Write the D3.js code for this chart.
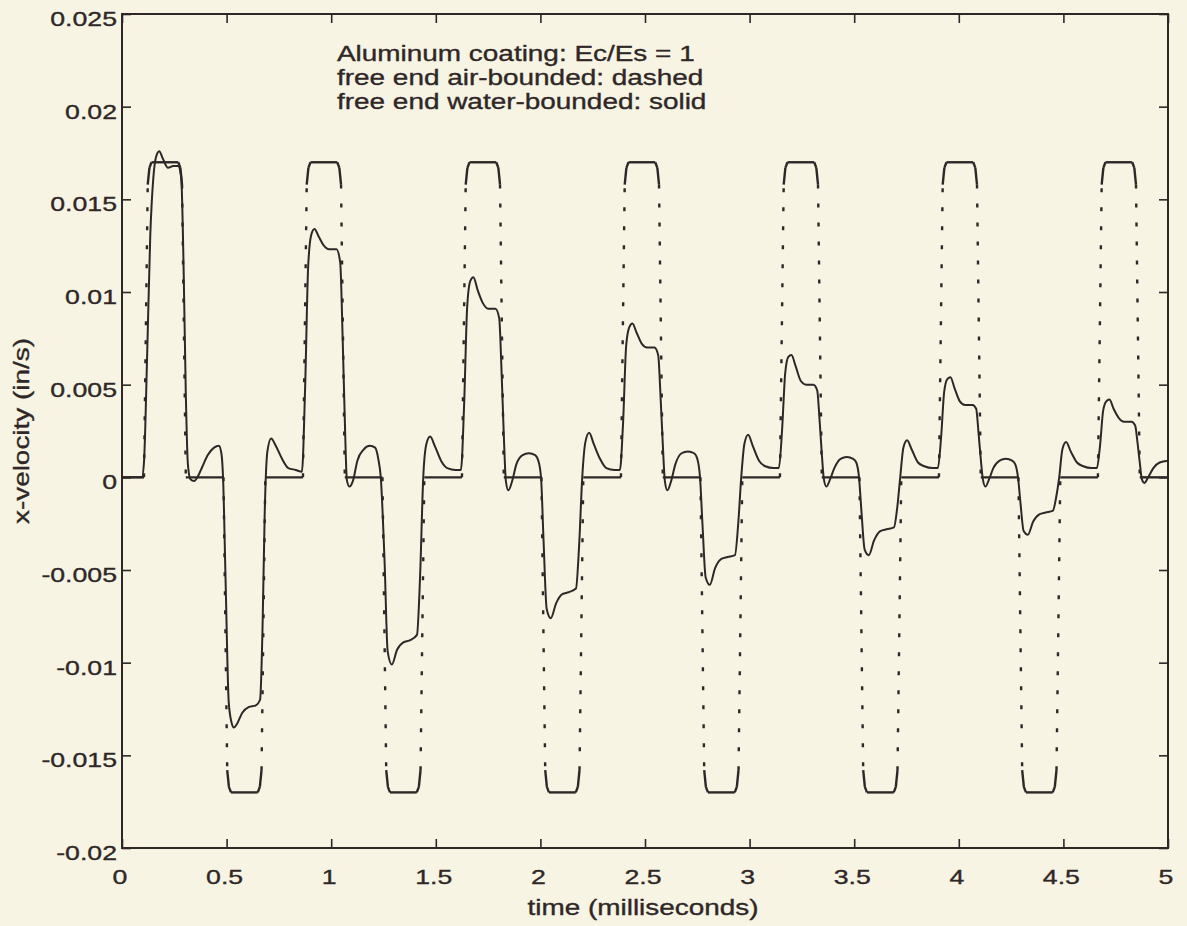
<!DOCTYPE html>
<html>
<head>
<meta charset="UTF-8">
<script src="https://d3js.org/d3.v7.min.js"></script>
<style>
  body { margin: 0; background: #f7f4e4; }
  text { font-family: "Liberation Sans", Arial, sans-serif; fill: #2f2727; stroke: #2f2727; stroke-width: 0.35px; }
</style>
</head>
<body>
<div id="chart"></div>
<script>
 // [time (ms), x-velocity (in/s)]
 // free end air-bounded (dotted square pulses)
 const airBounded = [
   [0, 0],
   [0.105, 0], [0.123, 0.0158], [0.131, 0.0167], [0.141, 0.017], [0.269, 0.017], [0.279, 0.0167], [0.287, 0.0158], [0.305, 0],
   [0.485, 0], [0.503, -0.0158], [0.511, -0.0167], [0.521, -0.017], [0.649, -0.017], [0.659, -0.0167], [0.667, -0.0158], [0.685, 0],
   [0.865, 0], [0.883, 0.0158], [0.891, 0.0167], [0.901, 0.017], [1.029, 0.017], [1.039, 0.0167], [1.047, 0.0158], [1.065, 0],
   [1.245, 0], [1.263, -0.0158], [1.271, -0.0167], [1.281, -0.017], [1.409, -0.017], [1.419, -0.0167], [1.427, -0.0158], [1.445, 0],
   [1.625, 0], [1.643, 0.0158], [1.651, 0.0167], [1.661, 0.017], [1.789, 0.017], [1.799, 0.0167], [1.807, 0.0158], [1.825, 0],
   [2.005, 0], [2.023, -0.0158], [2.031, -0.0167], [2.041, -0.017], [2.169, -0.017], [2.179, -0.0167], [2.187, -0.0158], [2.205, 0],
   [2.385, 0], [2.403, 0.0158], [2.411, 0.0167], [2.421, 0.017], [2.549, 0.017], [2.559, 0.0167], [2.567, 0.0158], [2.585, 0],
   [2.765, 0], [2.783, -0.0158], [2.791, -0.0167], [2.801, -0.017], [2.929, -0.017], [2.939, -0.0167], [2.947, -0.0158], [2.965, 0],
   [3.145, 0], [3.163, 0.0158], [3.171, 0.0167], [3.181, 0.017], [3.309, 0.017], [3.319, 0.0167], [3.327, 0.0158], [3.345, 0],
   [3.525, 0], [3.543, -0.0158], [3.551, -0.0167], [3.561, -0.017], [3.689, -0.017], [3.699, -0.0167], [3.707, -0.0158], [3.725, 0],
   [3.905, 0], [3.923, 0.0158], [3.931, 0.0167], [3.941, 0.017], [4.069, 0.017], [4.079, 0.0167], [4.087, 0.0158], [4.105, 0],
   [4.285, 0], [4.303, -0.0158], [4.311, -0.0167], [4.321, -0.017], [4.449, -0.017], [4.459, -0.0167], [4.467, -0.0158], [4.485, 0],
   [4.665, 0], [4.683, 0.0158], [4.691, 0.0167], [4.701, 0.017], [4.829, 0.017], [4.839, 0.0167], [4.847, 0.0158], [4.865, 0],
   [5, 0]
 ];

 // free end water-bounded (solid, damped)
 const waterBounded = [
   [0, 0], [0.095, 0], [0.105, 0.0008], [0.12, 0.0065], [0.135, 0.013], [0.15, 0.0162], [0.163, 0.0173], [0.178, 0.0176],
   [0.195, 0.0172], [0.22, 0.0167], [0.245, 0.0168], [0.268, 0.0168], [0.283, 0.0162], [0.295, 0.011], [0.305, 0.0045],
   [0.315, 0.0007], [0.327, -0.0001], [0.345, -0.0002], [0.365, 0.0001], [0.385, 0.0006], [0.41, 0.0012], [0.44, 0.0016],
   [0.463, 0.0017], [0.475, 0.0013], [0.483, 0],
   [0.495, -0.0055], [0.51, -0.0121], [0.523, -0.0132], [0.535, -0.0135], [0.55, -0.0133], [0.575, -0.0127], [0.605, -0.0124],
   [0.64, -0.0123], [0.66, -0.012], [0.672, -0.008], [0.682, -0.002], [0.695, 0.0014], [0.713, 0.0021], [0.735, 0.0017],
   [0.765, 0.001], [0.795, 0.0005], [0.83, 0.0004],
   [0.86, 0.0003], [0.875, 0.0047], [0.89, 0.0114], [0.905, 0.0131], [0.92, 0.0134], [0.94, 0.013], [0.965, 0.0125],
   [0.99, 0.0123], [1.025, 0.0123], [1.043, 0.0116], [1.055, 0.0074], [1.065, 0.0031], [1.075, -0.00015], [1.087, -0.0005],
   [1.105, -0.00015], [1.125, 0.0009], [1.155, 0.0015], [1.185, 0.0017], [1.21, 0.0016], [1.225, 0.001], [1.237, 0],
   [1.255, -0.0045], [1.27, -0.0094], [1.29, -0.0101], [1.315, -0.0093], [1.345, -0.0089], [1.375, -0.0088], [1.41, -0.0085],
   [1.425, -0.0053], [1.44, 0], [1.455, 0.0018], [1.473, 0.0022], [1.495, 0.0017], [1.525, 0.0009], [1.555, 0.0005], [1.595, 0.0004],
   [1.62, 0.0004], [1.635, 0.0038], [1.65, 0.0092], [1.665, 0.0106], [1.68, 0.0108], [1.7, 0.0101], [1.725, 0.0094],
   [1.75, 0.0091], [1.785, 0.0091], [1.803, 0.0086], [1.815, 0.0055], [1.825, 0.0023], [1.835, -0.0002], [1.847, -0.0007],
   [1.865, -0.0002], [1.885, 0.0007], [1.915, 0.0012], [1.945, 0.0013], [1.975, 0.0012], [1.99, 0.0009], [2.003, 0],
   [2.015, -0.0034], [2.03, -0.0071], [2.05, -0.0076], [2.075, -0.0068], [2.105, -0.0063], [2.135, -0.0062], [2.17, -0.006],
   [2.185, -0.0037], [2.2, 0], [2.215, 0.0019], [2.233, 0.0024], [2.255, 0.0018], [2.285, 0.001], [2.315, 0.0005], [2.355, 0.0004],
   [2.38, 0.0004], [2.395, 0.0029], [2.41, 0.0071], [2.425, 0.0081], [2.44, 0.0083], [2.46, 0.0078], [2.485, 0.0072],
   [2.51, 0.007], [2.545, 0.007], [2.563, 0.0066], [2.575, 0.0042], [2.585, 0.0018], [2.595, -0.0002], [2.607, -0.0007],
   [2.625, -0.0002], [2.645, 0.0007], [2.675, 0.0013], [2.705, 0.0014], [2.735, 0.0013], [2.75, 0.001], [2.763, 0],
   [2.775, -0.0026], [2.79, -0.0054], [2.81, -0.0058], [2.835, -0.0049], [2.865, -0.0044], [2.895, -0.0043], [2.93, -0.0042],
   [2.945, -0.0026], [2.96, 0], [2.975, 0.0018], [2.993, 0.0023], [3.015, 0.0017], [3.045, 0.0009], [3.075, 0.0006], [3.115, 0.0005],
   [3.14, 0.0005], [3.155, 0.0025], [3.17, 0.0056], [3.185, 0.0065], [3.2, 0.0066], [3.22, 0.006], [3.245, 0.0052],
   [3.27, 0.005], [3.305, 0.005], [3.323, 0.0047], [3.335, 0.003], [3.345, 0.0013], [3.355, -0.0001], [3.367, -0.0005],
   [3.385, -0.0001], [3.405, 0.0005], [3.435, 0.001], [3.465, 0.0011], [3.495, 0.001], [3.51, 0.0008], [3.523, 0],
   [3.535, -0.0019], [3.55, -0.0039], [3.57, -0.0042], [3.595, -0.0034], [3.625, -0.0029], [3.655, -0.0028], [3.69, -0.0027],
   [3.705, -0.0017], [3.72, 0], [3.735, 0.0016], [3.753, 0.002], [3.775, 0.0015], [3.805, 0.0008], [3.835, 0.0006], [3.875, 0.0005],
   [3.9, 0.0005], [3.915, 0.0021], [3.93, 0.0046], [3.945, 0.0053], [3.96, 0.0054], [3.98, 0.0048], [4.005, 0.0041],
   [4.03, 0.0039], [4.065, 0.0039], [4.083, 0.0037], [4.095, 0.0023], [4.105, 0.001], [4.115, -0.0001], [4.127, -0.0005],
   [4.145, -0.0001], [4.165, 0.0005], [4.195, 0.0009], [4.225, 0.001], [4.255, 0.0009], [4.27, 0.0007], [4.283, 0],
   [4.295, -0.0014], [4.31, -0.0029], [4.33, -0.0031], [4.355, -0.0024], [4.385, -0.002], [4.415, -0.0019], [4.45, -0.0018],
   [4.465, -0.0011], [4.48, 0], [4.495, 0.0015], [4.513, 0.0019], [4.535, 0.0014], [4.565, 0.0008], [4.595, 0.0006], [4.635, 0.0005],
   [4.66, 0.0005], [4.675, 0.0017], [4.69, 0.0036], [4.705, 0.0041], [4.72, 0.0042], [4.74, 0.0037], [4.765, 0.0032],
   [4.79, 0.003], [4.825, 0.003], [4.843, 0.0028], [4.855, 0.0018], [4.865, 0.0008], [4.875, -0.0001], [4.887, -0.0003],
   [4.905, 0], [4.93, 0.0005], [4.96, 0.0008], [5, 0.0009]
 ];

 const xTicks = [0, 0.5, 1, 1.5, 2, 2.5, 3, 3.5, 4, 4.5, 5];
 const xTickLabels = ["0", "0.5", "1", "1.5", "2", "2.5", "3", "3.5", "4", "4.5", "5"];
 const yTicks = [0.025, 0.02, 0.015, 0.01, 0.005, 0, -0.005, -0.01, -0.015, -0.02];
 const yTickLabels = ["0.025", "0.02", "0.015", "0.01", "0.005", "0", "-0.005", "-0.01", "-0.015", "-0.02"];
 const notes = ["Aluminum coating: Ec/Es = 1",
                "free end air-bounded: dashed",
                "free end water-bounded: solid"];

 const width = 1187;
 const height = 926;
 const plot = {left: 122, right: 1168, top: 14, bottom: 848};
 const ink = "#2f2727";
 const stretch = 1.27;   // the scanned lettering is wider than it is tall

 let svg = d3.select("#chart").append("svg")
             .attr("width", width)
             .attr("height", height);
 svg.append("rect")
    .attr("width", width)
    .attr("height", height)
    .attr("fill", "#f7f4e4");

 let x = d3.scaleLinear().domain([0, 5]).range([plot.left, plot.right]);
 let y = d3.scaleLinear().domain([-0.02, 0.025]).range([plot.bottom, plot.top]);

 // inward ticks on all four sides
 function ticks(axis, tx, ty) {
     let g = svg.append("g")
                .attr("transform", `translate(${tx},${ty})`)
                .call(axis.tickSize(-9).tickFormat(""));
     g.select(".domain").remove();
     g.selectAll("line").attr("stroke", ink).attr("stroke-width", 1.6);
 }
 ticks(d3.axisBottom(x).tickValues(xTicks), 0, plot.bottom);
 ticks(d3.axisTop(x).tickValues(xTicks), 0, plot.top);
 ticks(d3.axisLeft(y).tickValues(yTicks), plot.left, 0);
 ticks(d3.axisRight(y).tickValues(yTicks), plot.right, 0);

 svg.append("rect")
    .attr("x", plot.left)
    .attr("y", plot.top)
    .attr("width", plot.right - plot.left)
    .attr("height", plot.bottom - plot.top)
    .attr("fill", "none")
    .attr("stroke", ink)
    .attr("stroke-width", 2);

 // tick labels
 svg.append("g").selectAll("text")
    .data(yTicks)
    .join("text")
    .attr("transform", d => `translate(${plot.left - 5},${y(d) + 12}) scale(${stretch},1)`)
    .attr("text-anchor", "end")
    .style("font-size", "21px")
    .text((d, i) => yTickLabels[i]);
 svg.append("g").selectAll("text")
    .data(xTicks)
    .join("text")
    .attr("transform", d => `translate(${x(d) - 2},${plot.bottom + 36}) scale(${stretch},1)`)
    .attr("text-anchor", "middle")
    .style("font-size", "21px")
    .text((d, i) => xTickLabels[i]);

 // axis titles
 svg.append("text")
    .attr("transform", `translate(${(plot.left + plot.right) / 2 - 2},${plot.bottom + 67}) scale(${stretch},1)`)
    .attr("text-anchor", "middle")
    .style("font-size", "22px")
    .text("time (milliseconds)");
 svg.append("text")
    .attr("transform", `translate(29,${(plot.top + plot.bottom) / 2}) rotate(-90) scale(${stretch},1)`)
    .attr("text-anchor", "middle")
    .style("font-size", "22px")
    .text("x-velocity (in/s)");

 // annotation
 svg.append("g").selectAll("text")
    .data(notes)
    .join("text")
    .attr("transform", (d, i) => `translate(337,${61 + i * 24}) scale(${stretch},1)`)
    .style("font-size", "22px")
    .text(d => d);

 // air-bounded: printed dotted, the dots only show on the steep edges
 svg.append("g").selectAll("line")
    .data(d3.pairs(airBounded))
    .join("line")
    .attr("x1", d => x(d[0][0]))
    .attr("y1", d => y(d[0][1]))
    .attr("x2", d => x(d[1][0]))
    .attr("y2", d => y(d[1][1]))
    .attr("stroke", ink)
    .attr("stroke-width", 2.4)
    .attr("stroke-dasharray", d => Math.abs(y(d[1][1]) - y(d[0][1])) > 20 ? "4,15" : null);

 // water-bounded: solid
 let line = d3.line()
              .x(d => x(d[0]))
              .y(d => y(d[1]))
              .curve(d3.curveMonotoneX);
 svg.append("path")
    .datum(waterBounded)
    .attr("d", line)
    .attr("fill", "none")
    .attr("stroke", ink)
    .attr("stroke-width", 2);
</script>
</body>
</html>
